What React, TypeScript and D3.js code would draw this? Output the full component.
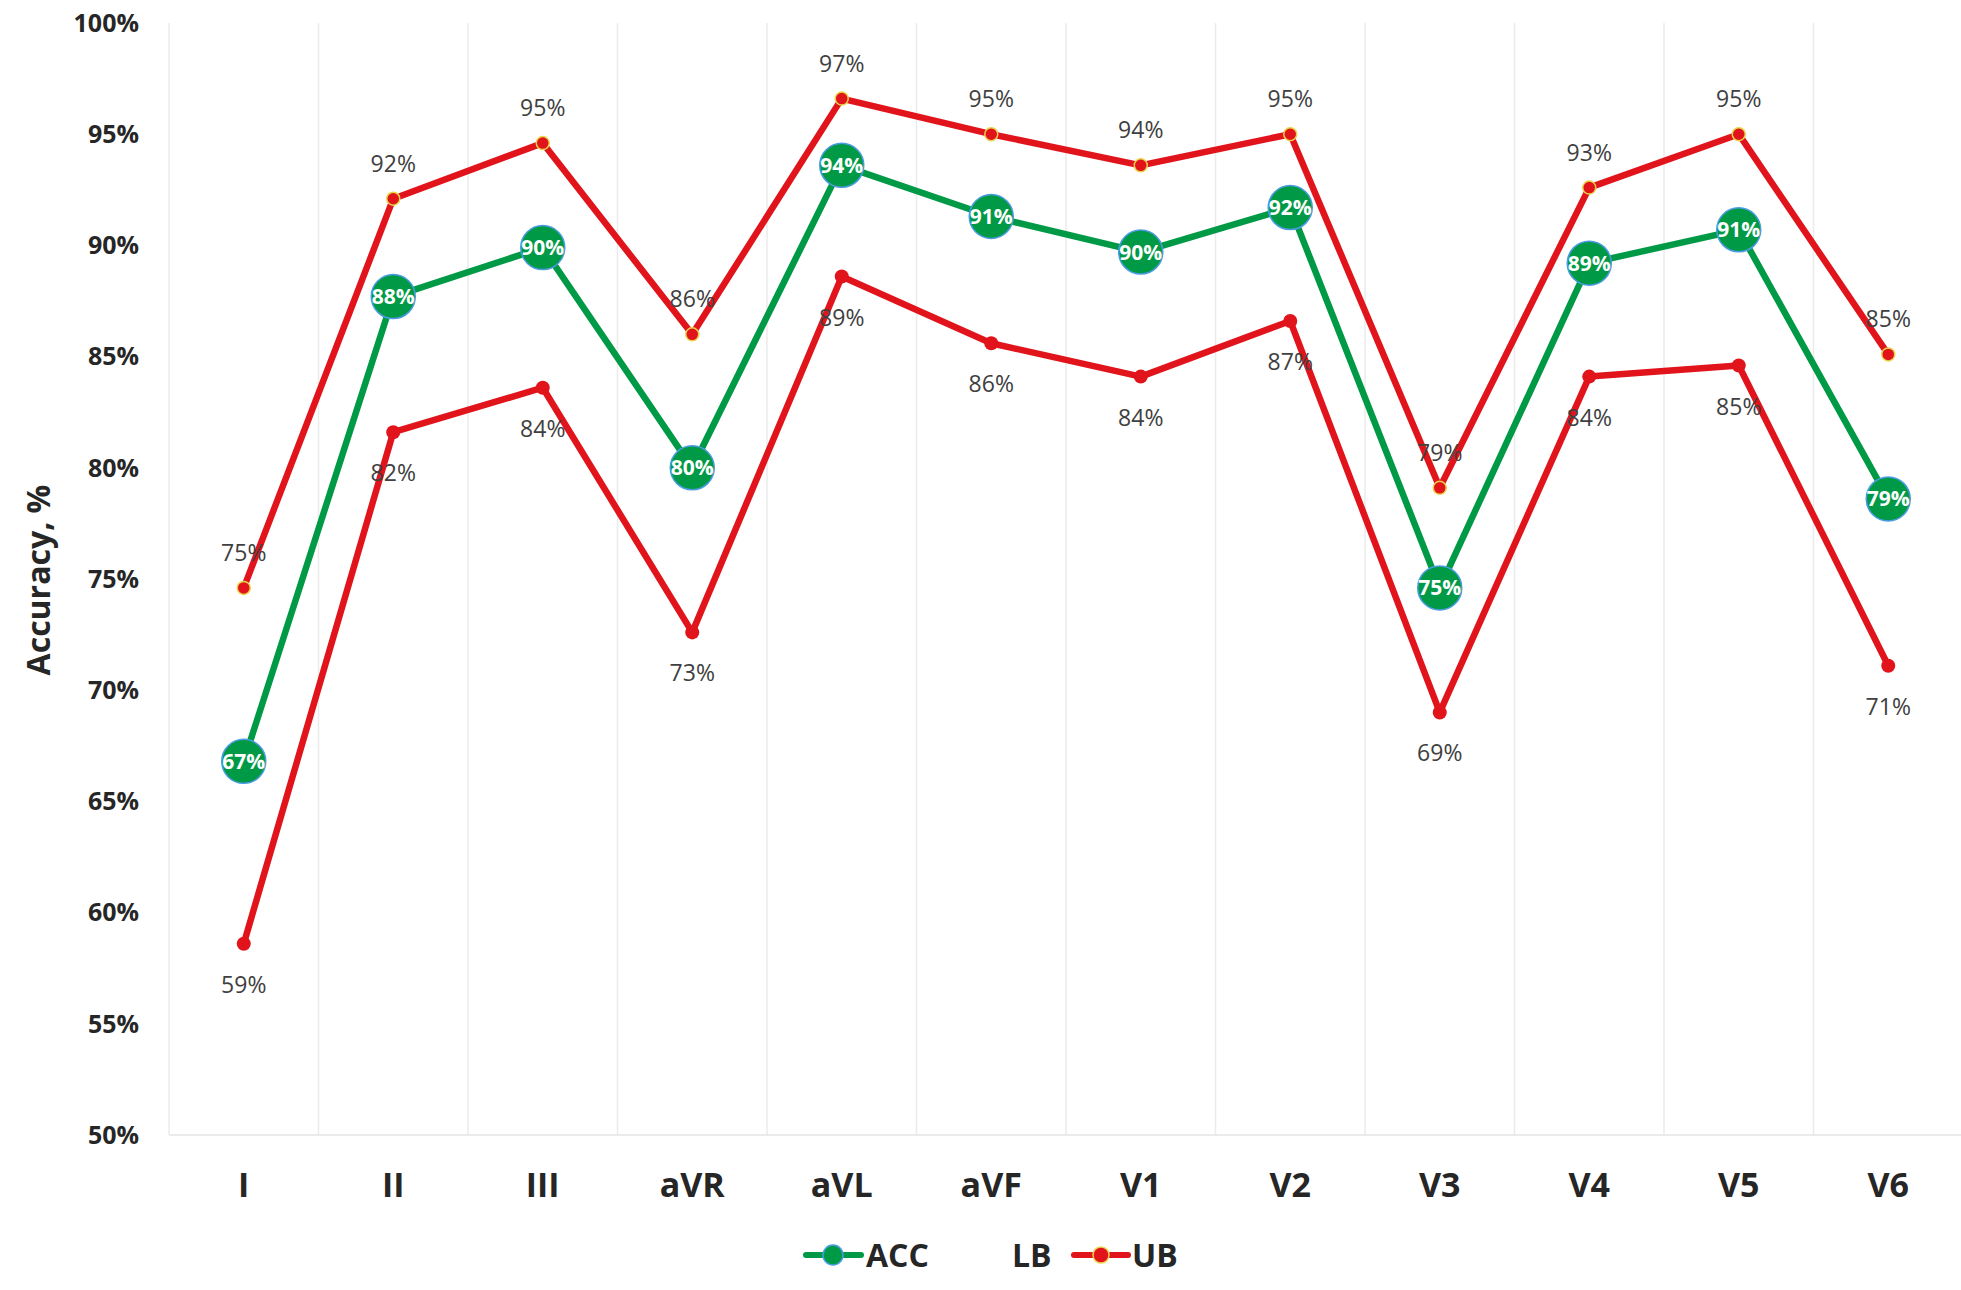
import React from 'react';
import * as d3 from 'd3';

const LEADS = ['I', 'II', 'III', 'aVR', 'aVL', 'aVF', 'V1', 'V2', 'V3', 'V4', 'V5', 'V6'];
const ACC = [66.8, 87.7, 89.9, 80.0, 93.6, 91.3, 89.7, 91.7, 74.6, 89.2, 90.7, 78.6];
const LB = [58.6, 81.6, 83.6, 72.6, 88.6, 85.6, 84.1, 86.6, 69.0, 84.1, 84.6, 71.1];
const UB = [74.6, 92.1, 94.6, 86.0, 96.6, 95.0, 93.6, 95.0, 79.1, 92.6, 95.0, 85.1];
const Y_TICKS = [50, 55, 60, 65, 70, 75, 80, 85, 90, 95, 100];

const W = 1961;
const H = 1290;
const GREEN = '#009a46';
const RED = '#e1141c';
const FONT = '"Open Sans", "Noto Sans", sans-serif';

export default function App() {
  const x = d3.scaleBand<string>().domain(LEADS).range([169, 169 + 12 * 149.5]).padding(0);
  const y = d3.scaleLinear().domain([50, 100]).range([1135, 23]);
  const cx = (i: number) => (x(LEADS[i]) ?? 0) + x.bandwidth() / 2;

  const line = d3.line<number>().x((_, i) => cx(i)).y(d => y(d));

  return (
    <svg width={W} height={H} style={{ position: 'absolute', left: 0, top: 0, background: '#fff' }}>
      {/* vertical category separators */}
      {d3.range(LEADS.length + 1).map(i => {
        const xx = x.range()[0] + i * x.bandwidth();
        return <line key={i} x1={xx} x2={xx} y1={y(100)} y2={y(50)} stroke="#ebebeb" strokeWidth={1.5} />;
      })}
      <line x1={169} x2={W} y1={y(50)} y2={y(50)} stroke="#e4e4e4" strokeWidth={1.5} />

      {/* y ticks */}
      {Y_TICKS.map(t => (
        <text key={t} x={139} y={y(t)} dy="0.35em" textAnchor="end" fontFamily={FONT} fontWeight="bold"
          fontSize={25} fill="#262626">{t}%</text>
      ))}
      <text transform={`translate(50,${580}) rotate(-90)`} textAnchor="middle" fontFamily={FONT}
        fontWeight="bold" fontSize={32} fill="#262626">Accuracy, %</text>

      {/* x labels */}
      {LEADS.map((l, i) => (
        <text key={l} x={cx(i)} y={1197} textAnchor="middle" fontFamily={FONT} fontWeight="bold"
          fontSize={34} fill="#262626">{l}</text>
      ))}

      {/* series lines */}
      <path d={line(ACC) ?? ''} fill="none" stroke={GREEN} strokeWidth={6.5} strokeLinejoin="round" />
      <path d={line(LB) ?? ''} fill="none" stroke={RED} strokeWidth={6.5} strokeLinejoin="round" />
      <path d={line(UB) ?? ''} fill="none" stroke={RED} strokeWidth={6.5} strokeLinejoin="round" />

      {/* markers */}
      {LB.map((v, i) => <circle key={'lb' + i} cx={cx(i)} cy={y(v)} r={7} fill={RED} />)}
      {UB.map((v, i) => <circle key={'ub' + i} cx={cx(i)} cy={y(v)} r={6.5} fill={RED} stroke="#e8d44a" strokeWidth={1.5} />)}
      {ACC.map((v, i) => (
        <g key={'acc' + i}>
          <circle cx={cx(i)} cy={y(v)} r={22} fill={GREEN} stroke="#4a9be0" strokeWidth={1.5} />
          <text x={cx(i)} y={y(v)} dy="0.36em" textAnchor="middle" fontFamily={FONT} fontWeight="bold"
            fontSize={21} fill="#fff">{Math.round(v)}%</text>
        </g>
      ))}

      {/* data labels */}
      {UB.map((v, i) => (
        <text key={'ubl' + i} x={cx(i)} y={y(v) - 35} dy="0.35em" textAnchor="middle" fontFamily={FONT}
          fontSize={23} fill="#404040">{Math.round(v)}%</text>
      ))}
      {LB.map((v, i) => (
        <text key={'lbl' + i} x={cx(i)} y={y(v) + 41} dy="0.35em" textAnchor="middle" fontFamily={FONT}
          fontSize={23} fill="#404040">{Math.round(v)}%</text>
      ))}

      {/* legend */}
      <g fontFamily={FONT} fontWeight="bold" fontSize={32} fill="#262626">
        <line x1={806} x2={861} y1={1255} y2={1255} stroke={GREEN} strokeWidth={6} strokeLinecap="round" />
        <circle cx={833} cy={1255} r={10} fill={GREEN} stroke="#4a9be0" strokeWidth={1.5} />
        <text x={866} y={1255} dy="0.36em">ACC</text>
        <text x={1012} y={1255} dy="0.36em">LB</text>
        <line x1={1074} x2={1128} y1={1255} y2={1255} stroke={RED} strokeWidth={6} strokeLinecap="round" />
        <circle cx={1101} cy={1255} r={8} fill={RED} stroke="#e8d44a" strokeWidth={1.5} />
        <text x={1132} y={1255} dy="0.36em">UB</text>
      </g>
    </svg>
  );
}
